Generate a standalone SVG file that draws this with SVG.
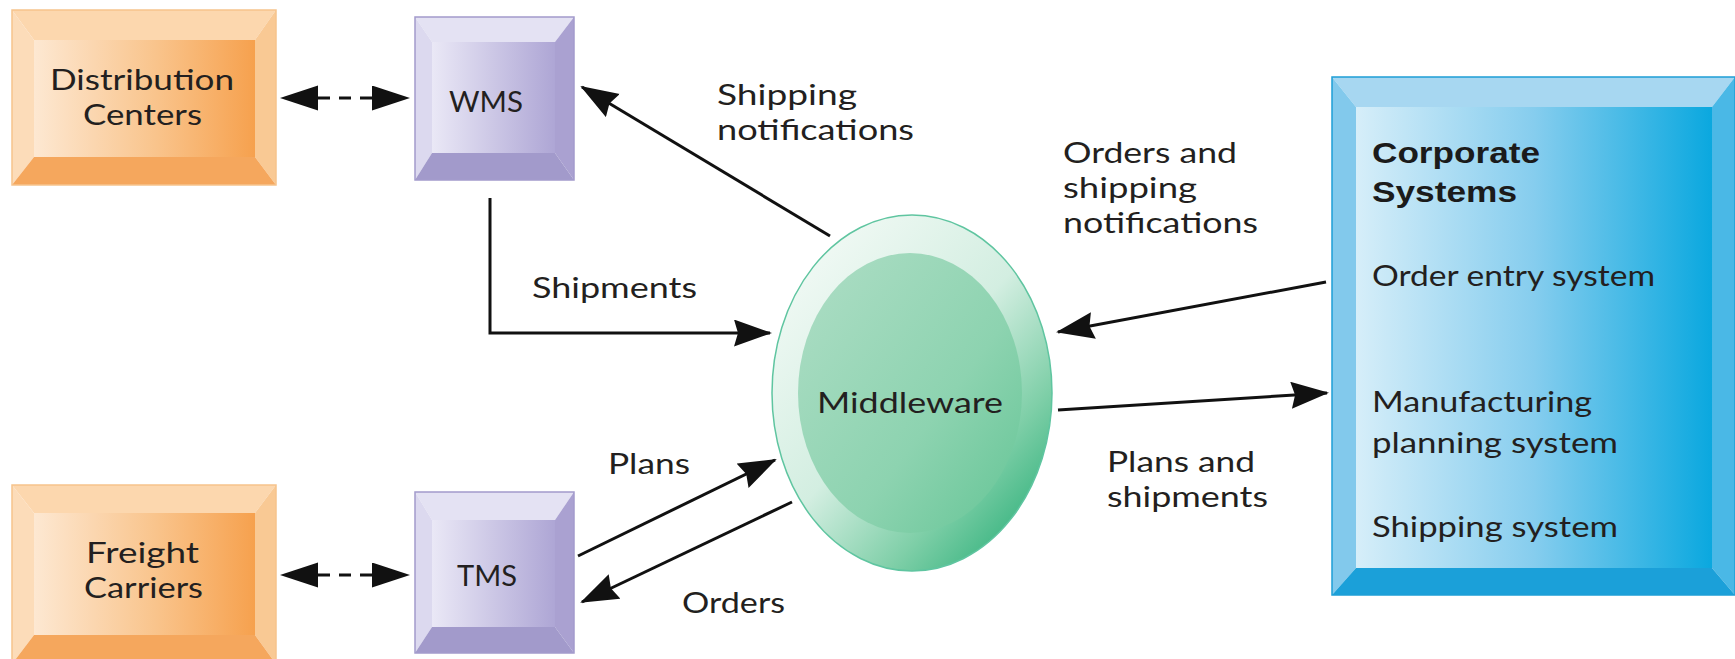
<svg xmlns="http://www.w3.org/2000/svg" width="1735" height="659" viewBox="0 0 1735 659">
<style>
.lbl{font-family:Lato,"Open Sans","Noto Sans",sans-serif;font-size:29px;fill:#231f20}
.bold{font-family:"Liberation Sans",Arial,sans-serif;font-size:30px;font-weight:bold;fill:#1b1b1b}
.conn{fill:none;stroke:#111;stroke-width:3}
.dash{fill:none;stroke:#111;stroke-width:3;stroke-dasharray:12 9}
.o-top{fill:#fcd7ae}.o-left{fill:#fcdcb9}.o-right{fill:#f9c994}.o-bot{fill:#f5a75d}.o-out{fill:none;stroke:#f6c38c;stroke-width:1.5}
.p-top{fill:#e4e2f3}.p-left{fill:#dcd9ef}.p-right{fill:#aaa1d1}.p-bot{fill:#a29acb}.p-out{fill:none;stroke:#a39bcc;stroke-width:1.5}
.b-top{fill:#a7d7f1}.b-left{fill:#82c9ec}.b-right{fill:#4ab8e6}.b-bot{fill:#1ba0d9}.b-out{fill:none;stroke:#1e9fd6;stroke-width:1.5}
</style>
<defs>
<linearGradient id="gOrange" x1="0" y1="0" x2="1" y2="0">
<stop offset="0" stop-color="#fde8d2"/><stop offset="0.55" stop-color="#f9c48c"/><stop offset="1" stop-color="#f6a14e"/>
</linearGradient>
<linearGradient id="gPurple" x1="0" y1="0" x2="1" y2="0">
<stop offset="0" stop-color="#eae8f6"/><stop offset="1" stop-color="#aea6d5"/>
</linearGradient>
<linearGradient id="gBlue" x1="0" y1="0" x2="1" y2="0">
<stop offset="0" stop-color="#d6eef9"/><stop offset="0.5" stop-color="#86cdee"/><stop offset="1" stop-color="#0aa8df"/>
</linearGradient>
<linearGradient id="gMidOuter" x1="0.15" y1="0.1" x2="0.9" y2="0.95">
<stop offset="0" stop-color="#f0f9f4"/><stop offset="0.45" stop-color="#d3eee1"/><stop offset="0.75" stop-color="#7fcfa8"/><stop offset="1" stop-color="#2eb07a"/>
</linearGradient>
<linearGradient id="gMidInner" x1="0.1" y1="0.1" x2="0.95" y2="0.9">
<stop offset="0" stop-color="#a9dcc2"/><stop offset="0.6" stop-color="#8dd3b0"/><stop offset="1" stop-color="#6bc79a"/>
</linearGradient>
<marker id="arrow" markerUnits="userSpaceOnUse" markerWidth="40" markerHeight="28" refX="36" refY="13.5" orient="auto" viewBox="0 0 40 28">
<path d="M0,0 L38,13.5 L0,27 L4,13.5 Z" fill="#111"/>
</marker>
<marker id="darrow" markerUnits="userSpaceOnUse" markerWidth="40" markerHeight="26" refX="0" refY="12.5" orient="auto-start-reverse" viewBox="0 0 40 26">
<path d="M0,0 L38,12.5 L0,25 Z" fill="#111"/>
</marker>
</defs>
<rect width="1735" height="659" fill="#ffffff"/>

<g id="distribution-centers">
<polygon class="o-top" points="12,10 276,10 255,40 34,40"/>
<polygon class="o-left" points="12,10 34,40 34,157 12,185"/>
<polygon class="o-right" points="276,10 255,40 255,157 276,185"/>
<polygon class="o-bot" points="12,185 34,157 255,157 276,185"/>
<rect x="34" y="40" width="221" height="117" fill="url(#gOrange)"/>
<rect class="o-out" x="12" y="10" width="264" height="175"/>
<text class="lbl" x="50" y="90" textLength="184" lengthAdjust="spacingAndGlyphs">Distribution</text>
<text class="lbl" x="83" y="125" textLength="119" lengthAdjust="spacingAndGlyphs">Centers</text>
</g>

<g id="freight-carriers">
<polygon class="o-top" points="12,485 276,485 255,513 34,513"/>
<polygon class="o-left" points="12,485 34,513 34,635 12,664"/>
<polygon class="o-right" points="276,485 255,513 255,635 276,664"/>
<polygon class="o-bot" points="12,664 34,635 255,635 276,664"/>
<rect x="34" y="513" width="221" height="122" fill="url(#gOrange)"/>
<rect class="o-out" x="12" y="485" width="264" height="179"/>
<text class="lbl" x="86" y="563" textLength="113" lengthAdjust="spacingAndGlyphs">Freight</text>
<text class="lbl" x="84" y="598" textLength="119" lengthAdjust="spacingAndGlyphs">Carriers</text>
</g>

<g id="wms">
<polygon class="p-top" points="415,17 574,17 555,42 432,42"/>
<polygon class="p-left" points="415,17 432,42 432,153 415,180"/>
<polygon class="p-right" points="574,17 555,42 555,153 574,180"/>
<polygon class="p-bot" points="415,180 432,153 555,153 574,180"/>
<rect x="432" y="42" width="123" height="111" fill="url(#gPurple)"/>
<rect class="p-out" x="415" y="17" width="159" height="163"/>
<text class="lbl" x="449" y="112" textLength="74" lengthAdjust="spacingAndGlyphs">WMS</text>
</g>

<g id="tms">
<polygon class="p-top" points="415,492 574,492 555,520 432,520"/>
<polygon class="p-left" points="415,492 432,520 432,627 415,653"/>
<polygon class="p-right" points="574,492 555,520 555,627 574,653"/>
<polygon class="p-bot" points="415,653 432,627 555,627 574,653"/>
<rect x="432" y="520" width="123" height="107" fill="url(#gPurple)"/>
<rect class="p-out" x="415" y="492" width="159" height="161"/>
<text class="lbl" x="457" y="586" textLength="60" lengthAdjust="spacingAndGlyphs">TMS</text>
</g>

<g id="middleware">
<ellipse cx="912" cy="393" rx="140" ry="178" fill="url(#gMidOuter)" stroke="#5fc5a0" stroke-width="1.5"/>
<ellipse cx="910" cy="393" rx="112" ry="140" fill="url(#gMidInner)"/>
<text class="lbl" x="817" y="413" textLength="186" lengthAdjust="spacingAndGlyphs">Middleware</text>
</g>

<g id="corporate-systems">
<polygon class="b-top" points="1332,77 1735,77 1712,107 1356,107"/>
<polygon class="b-left" points="1332,77 1356,107 1356,568 1332,595"/>
<polygon class="b-right" points="1735,77 1712,107 1712,568 1735,595"/>
<polygon class="b-bot" points="1332,595 1356,568 1712,568 1735,595"/>
<rect x="1356" y="107" width="356" height="461" fill="url(#gBlue)"/>
<rect class="b-out" x="1332" y="77" width="403" height="518"/>
<text class="bold" x="1372" y="163" textLength="168" lengthAdjust="spacingAndGlyphs">Corporate</text>
<text class="bold" x="1372" y="202" textLength="145" lengthAdjust="spacingAndGlyphs">Systems</text>
<text class="lbl" x="1372" y="286" textLength="283" lengthAdjust="spacingAndGlyphs">Order entry system</text>
<text class="lbl" x="1372" y="412" textLength="220" lengthAdjust="spacingAndGlyphs">Manufacturing</text>
<text class="lbl" x="1372" y="453" textLength="246" lengthAdjust="spacingAndGlyphs">planning system</text>
<text class="lbl" x="1372" y="537" textLength="246" lengthAdjust="spacingAndGlyphs">Shipping system</text>
</g>

<g id="connectors">
<path class="dash" d="M318,98 H372" marker-start="url(#darrow)" marker-end="url(#darrow)"/>
<path class="dash" d="M318,575 H372" marker-start="url(#darrow)" marker-end="url(#darrow)"/>
<path class="conn" d="M830,236 L582,87" marker-end="url(#arrow)"/>
<path class="conn" d="M490,198 V333 H770" marker-end="url(#arrow)"/>
<path class="conn" d="M1326,282 L1058,332" marker-end="url(#arrow)"/>
<path class="conn" d="M1058,410 L1327,393" marker-end="url(#arrow)"/>
<path class="conn" d="M578,556 L775,460" marker-end="url(#arrow)"/>
<path class="conn" d="M792,502 L582,602" marker-end="url(#arrow)"/>
</g>

<g id="labels">
<text class="lbl" x="717" y="105" textLength="140" lengthAdjust="spacingAndGlyphs">Shipping</text>
<text class="lbl" x="717" y="140" textLength="197" lengthAdjust="spacingAndGlyphs">notifications</text>
<text class="lbl" x="532" y="298" textLength="165" lengthAdjust="spacingAndGlyphs">Shipments</text>
<text class="lbl" x="1063" y="163" textLength="174" lengthAdjust="spacingAndGlyphs">Orders and</text>
<text class="lbl" x="1063" y="198" textLength="134" lengthAdjust="spacingAndGlyphs">shipping</text>
<text class="lbl" x="1063" y="233" textLength="195" lengthAdjust="spacingAndGlyphs">notifications</text>
<text class="lbl" x="1107" y="472" textLength="148" lengthAdjust="spacingAndGlyphs">Plans and</text>
<text class="lbl" x="1107" y="507" textLength="161" lengthAdjust="spacingAndGlyphs">shipments</text>
<text class="lbl" x="608" y="474" textLength="82" lengthAdjust="spacingAndGlyphs">Plans</text>
<text class="lbl" x="682" y="613" textLength="103" lengthAdjust="spacingAndGlyphs">Orders</text>
</g>
</svg>
